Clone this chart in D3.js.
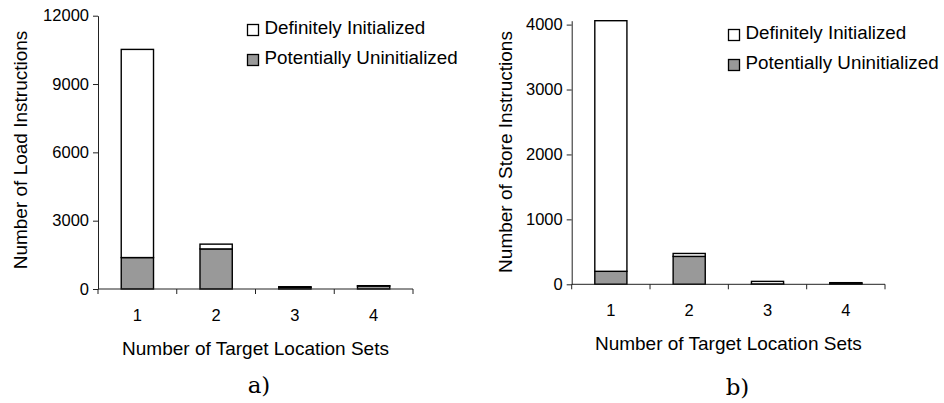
<!DOCTYPE html>
<html>
<head>
<meta charset="utf-8">
<script src="https://cdn.jsdelivr.net/npm/d3@7"></script>
<style>
    body { margin: 0; background: #fff; }
    text { font-family: "Liberation Sans", Arial, sans-serif; fill: #000; }
</style>
</head>
<body>
<div id="chart"></div>
<script>
// Data
const categories = ["1", "2", "3", "4"];
const seriesNames = ["Potentially Uninitialized", "Definitely Initialized"];
const legendOrder = ["Definitely Initialized", "Potentially Uninitialized"];

const loadUninit = [1380, 1760, 70, 130];
const loadInit = [9140, 210, 30, 15];
const loadTicks = [0, 3000, 6000, 9000, 12000];

const storeUninit = [200, 430, 5, 15];
const storeInit = [3860, 45, 40, 10];
const storeTicks = [0, 1000, 2000, 3000, 4000];

const colors = { "Potentially Uninitialized": "#999999", "Definitely Initialized": "#ffffff" };

const svg = d3.select("#chart")
    .append("svg")
    .attr("width", 944)
    .attr("height", 403);

function drawPanel(opt) {
    const g = svg.append("g");

    const x = d3.scaleBand()
        .domain(categories)
        .range([opt.left, opt.right])
        .padding(0);

    const y = d3.scaleLinear()
        .domain([0, opt.yMax])
        .range([opt.bottom, opt.top]);

    const rows = categories.map((c, i) => ({
        cat: c,
        "Potentially Uninitialized": opt.uninit[i],
        "Definitely Initialized": opt.init[i]
    }));
    const stacked = d3.stack().keys(seriesNames)(rows);

    const barW = x.bandwidth() * 0.41;

    // bars
    g.selectAll("g.series")
        .data(stacked)
        .join("g")
        .attr("class", "series")
        .attr("fill", d => colors[d.key])
        .selectAll("rect")
        .data(d => d)
        .join("rect")
        .attr("x", d => x(d.data.cat) + (x.bandwidth() - barW) / 2)
        .attr("y", d => y(d[1]))
        .attr("width", barW)
        .attr("height", d => y(d[0]) - y(d[1]))
        .attr("stroke", "#000")
        .attr("stroke-width", 1.4);

    // y axis
    const yAxis = g.append("g")
        .attr("transform", `translate(${opt.left},0)`)
        .call(d3.axisLeft(y).tickValues(opt.ticks).tickFormat(d3.format("d"))
            .tickSize(5).tickSizeOuter(0).tickPadding(4));
    yAxis.selectAll("text").style("font-size", "16.5px").attr("font-family", null);
    yAxis.selectAll("line, path").attr("stroke", "#222");

    // x axis: line, boundary ticks, centred labels
    const xg = g.append("g");
    xg.append("line")
        .attr("x1", opt.left).attr("x2", opt.right)
        .attr("y1", opt.bottom).attr("y2", opt.bottom)
        .attr("stroke", "#222");
    const bounds = categories.map(c => x(c)).concat([opt.right]);
    xg.selectAll("line.tick")
        .data(bounds)
        .join("line")
        .attr("class", "tick")
        .attr("x1", d => d).attr("x2", d => d)
        .attr("y1", opt.bottom).attr("y2", opt.bottom + 5)
        .attr("stroke", "#222");
    xg.selectAll("text.xlab")
        .data(categories)
        .join("text")
        .attr("class", "xlab")
        .attr("x", d => x(d) + x.bandwidth() / 2)
        .attr("y", opt.bottom + 32)
        .attr("text-anchor", "middle")
        .style("font-size", "16.5px")
        .text(d => d);

    // axis titles
    g.append("text")
        .attr("transform", `translate(${opt.yTitleX},${opt.yTitleY}) rotate(-90)`)
        .attr("text-anchor", "middle")
        .style("font-size", "19px")
        .text(opt.yTitle);

    g.append("text")
        .attr("x", (opt.left + opt.right) / 2)
        .attr("y", opt.bottom + 66)
        .attr("text-anchor", "middle")
        .style("font-size", "19px")
        .text("Number of Target Location Sets");

    // panel label
    g.append("text")
        .attr("x", opt.capX)
        .attr("y", opt.capY)
        .attr("text-anchor", "middle")
        .style("font-family", "'DejaVu Serif', 'Liberation Serif', serif")
        .style("font-size", "23px")
        .text(opt.caption);

    // legend
    const lg = g.append("g")
        .attr("transform", `translate(${opt.legX},${opt.legY})`);
    legendOrder.forEach((name, i) => {
        lg.append("rect")
            .attr("x", 0)
            .attr("y", i * 30)
            .attr("width", 11)
            .attr("height", 11)
            .attr("fill", colors[name])
            .attr("stroke", "#000")
            .attr("stroke-width", 1.3);
        lg.append("text")
            .attr("x", 17)
            .attr("y", i * 30 + 9.5)
            .style("font-size", "18.8px")
            .text(name);
    });
}

drawPanel({
    left: 98, right: 413, top: 15.7, bottom: 289,
    yMax: 12000, ticks: loadTicks,
    uninit: loadUninit, init: loadInit,
    yTitle: "Number of Load Instructions", yTitleX: 27, yTitleY: 150,
    caption: "a)", capX: 259, capY: 393,
    legX: 247.5, legY: 24.5
});

drawPanel({
    left: 571.7, right: 885, top: 20.7, bottom: 284.3,
    yMax: 4060, ticks: storeTicks,
    uninit: storeUninit, init: storeInit,
    yTitle: "Number of Store Instructions", yTitleX: 511.5, yTitleY: 152,
    caption: "b)", capX: 737.5, capY: 395,
    legX: 728.5, legY: 29.5
});
</script>
</body>
</html>
